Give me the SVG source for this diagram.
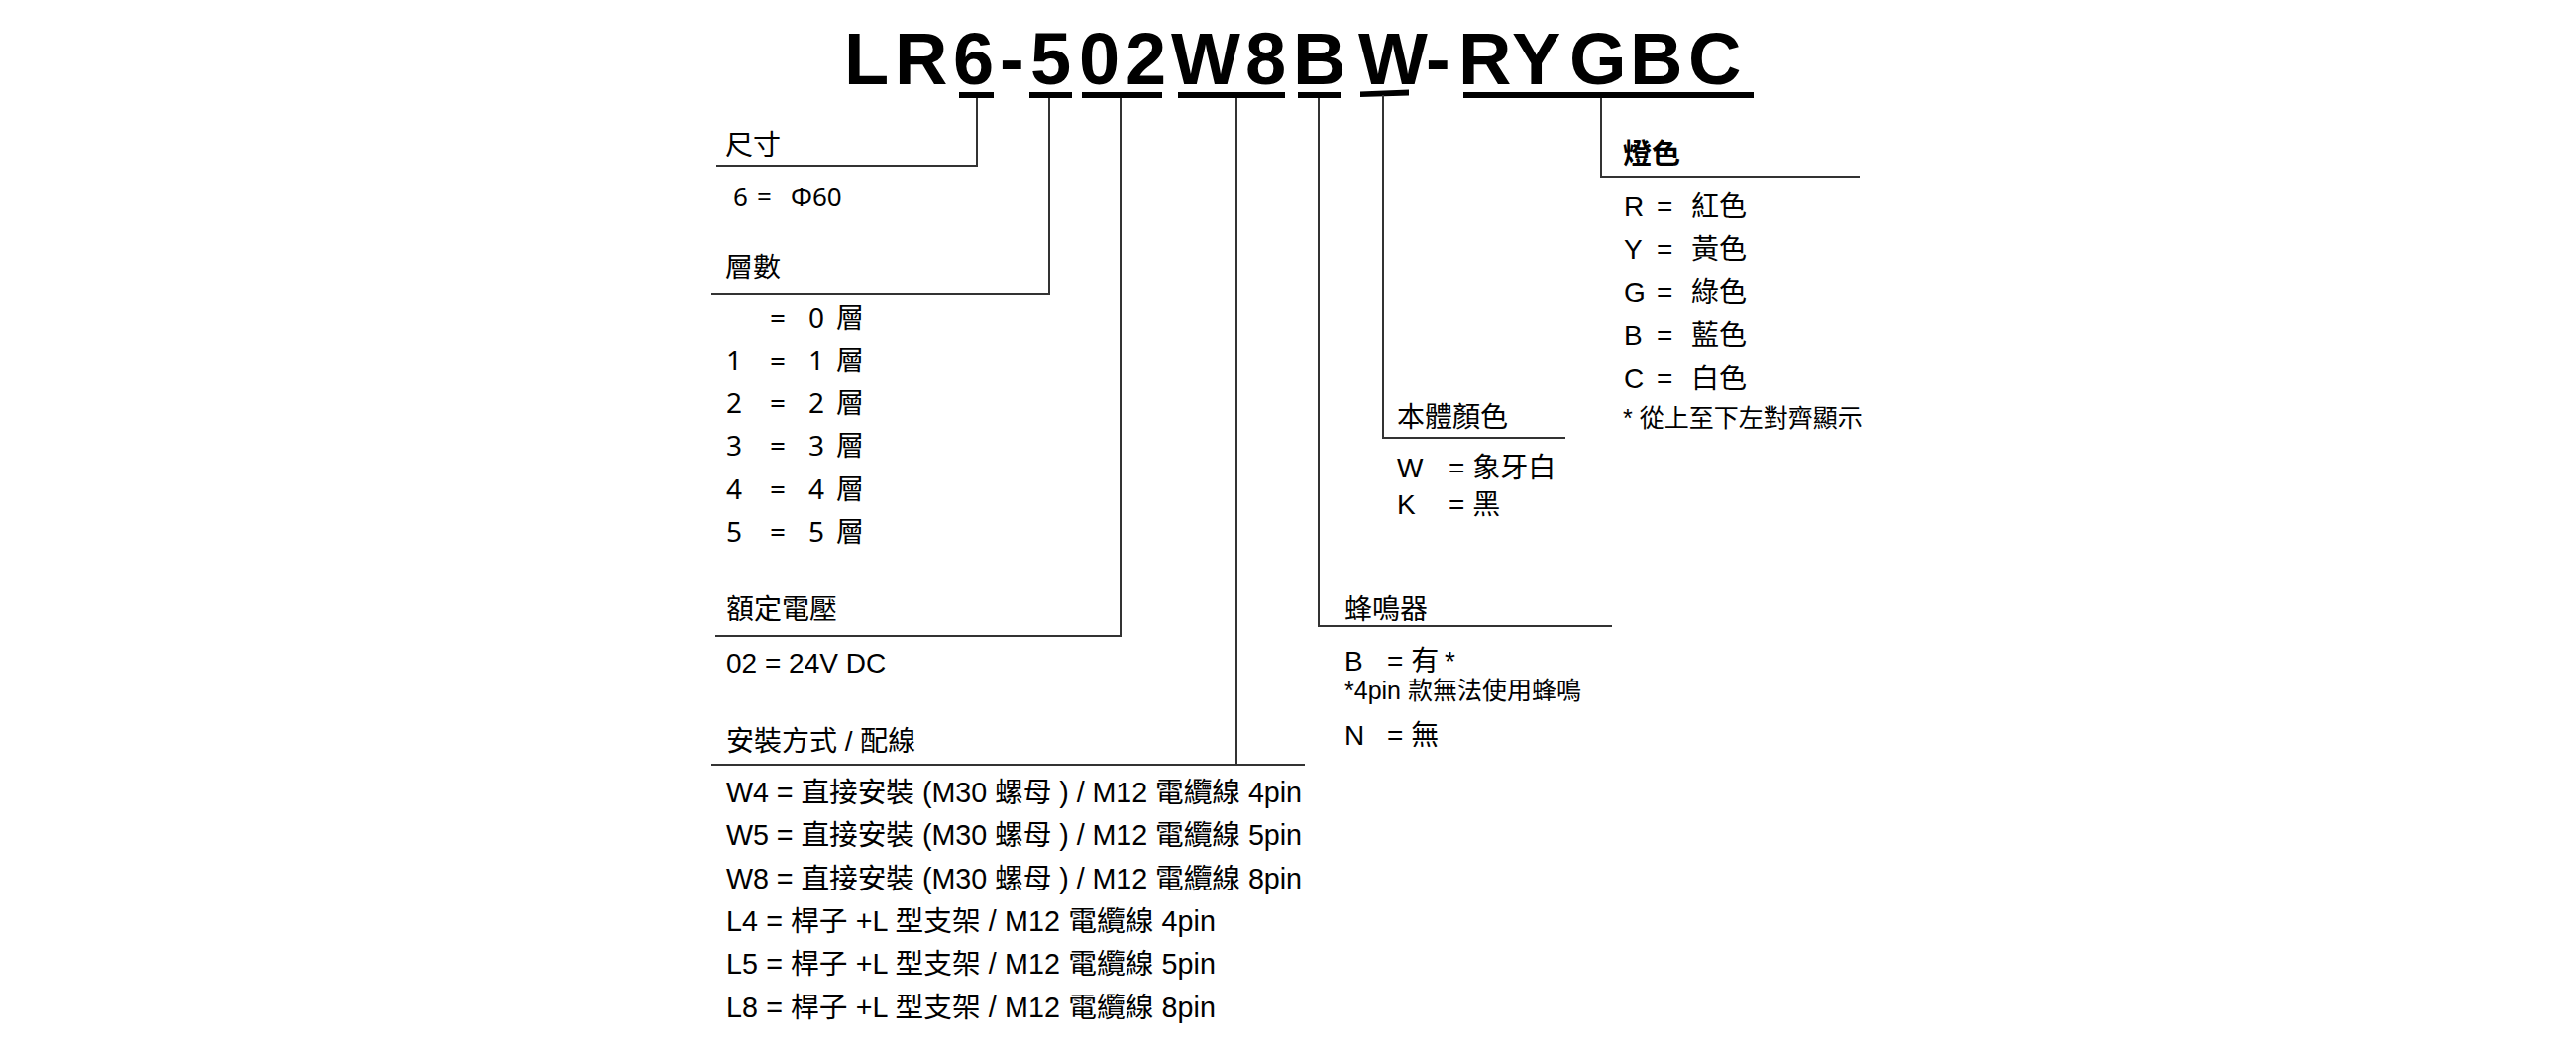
<svg xmlns="http://www.w3.org/2000/svg" width="2600" height="1057" viewBox="0 0 2600 1057">
<style>
.t{font-family:"Liberation Sans","Noto Sans CJK TC",sans-serif;font-size:28px;fill:#000}
.w{font-family:"Liberation Sans","Noto Sans CJK TC",sans-serif;font-size:28.7px;fill:#000}
.s{font-family:"Liberation Sans","Noto Sans CJK TC",sans-serif;font-size:25px;fill:#000}
.n{font-family:"Noto Sans","Noto Sans CJK TC",sans-serif;font-size:28px;fill:#000}
.h{font-family:"Noto Sans CJK TC",sans-serif;font-size:28px;fill:#000}
.title{font-family:"Liberation Sans",Arial,sans-serif;font-size:74px;font-weight:bold;fill:#000}
.ln{stroke:#333;stroke-width:2;fill:none}
.ul{fill:#000}
</style>
<rect width="2600" height="1057" fill="#fff"/>

<g id="title">
<text class="title" y="85" x="852 903 962 1009 1040 1089 1136 1182 1257 1305 1371 1439 1472 1526 1584 1645 1704">LR6-502W8BW-RYGBC</text>
</g>

<g id="connectors">
<rect class="ul" x="968" y="93" width="35" height="6"/>
<rect class="ul" x="1039" y="93" width="43" height="6"/>
<rect class="ul" x="1092" y="93" width="81" height="6"/>
<rect class="ul" x="1189" y="93" width="108" height="6"/>
<rect class="ul" x="1310" y="93" width="43" height="6"/>
<polygon class="ul" points="1373,92.5 1422,90.5 1422,96.5 1373,98"/>
<rect class="ul" x="1477" y="93" width="293" height="6"/>
<path class="ln" d="M986 99 V168 H723"/>
<path class="ln" d="M1059 99 V297 H718"/>
<path class="ln" d="M1131 99 V642 H722"/>
<path class="ln" d="M1248 99 V772 M718 772 H1317"/>
<path class="ln" d="M1331 99 V632 M1330 632 H1627"/>
<path class="ln" d="M1396 96 V442 H1580"/>
<path class="ln" d="M1616 99 V179 H1877"/>
</g>

<g id="size">
<text class="h" x="732" y="156">尺寸</text>
<text class="n" style="font-size:26px" y="208"><tspan x="740">6</tspan><tspan x="764">=</tspan><tspan x="798">Φ60</tspan></text>
</g>

<g id="layers">
<text class="h" x="732" y="280">層數</text>
<text class="n" y="331"><tspan x="777">=</tspan><tspan x="816">0</tspan><tspan x="844">層</tspan></text>
<text class="n" y="374"><tspan x="733">1</tspan><tspan x="777">=</tspan><tspan x="816">1</tspan><tspan x="844">層</tspan></text>
<text class="n" y="417"><tspan x="733">2</tspan><tspan x="777">=</tspan><tspan x="816">2</tspan><tspan x="844">層</tspan></text>
<text class="n" y="460"><tspan x="733">3</tspan><tspan x="777">=</tspan><tspan x="816">3</tspan><tspan x="844">層</tspan></text>
<text class="n" y="504"><tspan x="733">4</tspan><tspan x="777">=</tspan><tspan x="816">4</tspan><tspan x="844">層</tspan></text>
<text class="n" y="547"><tspan x="733">5</tspan><tspan x="777">=</tspan><tspan x="816">5</tspan><tspan x="844">層</tspan></text>
</g>

<g id="voltage">
<text class="h" x="733" y="625">額定電壓</text>
<text class="t" x="733" y="679">02 = 24V DC</text>
</g>

<g id="mounting">
<text class="t" x="733" y="758">安裝方式 / 配線</text>
<text class="w" x="733" y="810" textLength="581" lengthAdjust="spacing">W4 = 直接安裝 (M30 螺母 ) / M12 電纜線 4pin</text>
<text class="w" x="733" y="853" textLength="581" lengthAdjust="spacing">W5 = 直接安裝 (M30 螺母 ) / M12 電纜線 5pin</text>
<text class="w" x="733" y="897" textLength="581" lengthAdjust="spacing">W8 = 直接安裝 (M30 螺母 ) / M12 電纜線 8pin</text>
<text class="w" x="733" y="940" textLength="494" lengthAdjust="spacing">L4 = 桿子 +L 型支架 / M12 電纜線 4pin</text>
<text class="w" x="733" y="983" textLength="494" lengthAdjust="spacing">L5 = 桿子 +L 型支架 / M12 電纜線 5pin</text>
<text class="w" x="733" y="1027" textLength="494" lengthAdjust="spacing">L8 = 桿子 +L 型支架 / M12 電纜線 8pin</text>
</g>

<g id="buzzer">
<text class="h" x="1357" y="625">蜂鳴器</text>
<text class="t" y="677"><tspan x="1357">B</tspan><tspan x="1400">= 有</tspan><tspan x="1458">*</tspan></text>
<text class="s" x="1357" y="706">*4pin 款無法使用蜂鳴</text>
<text class="t" y="752"><tspan x="1357">N</tspan><tspan x="1400">= 無</tspan></text>
</g>

<g id="body-color">
<text class="h" x="1410" y="431">本體顏色</text>
<text class="t" y="482"><tspan x="1410">W</tspan><tspan x="1462">= 象牙白</tspan></text>
<text class="t" y="519"><tspan x="1410">K</tspan><tspan x="1462">= 黑</tspan></text>
</g>

<g id="light-color">
<text class="h" x="1638" y="166" style="font-weight:bold;font-size:29px">燈色</text>
<text class="t" y="218"><tspan x="1639">R</tspan><tspan x="1672">=</tspan><tspan x="1707">紅色</tspan></text>
<text class="t" y="261"><tspan x="1639">Y</tspan><tspan x="1672">=</tspan><tspan x="1707">黃色</tspan></text>
<text class="t" y="305"><tspan x="1639">G</tspan><tspan x="1672">=</tspan><tspan x="1707">綠色</tspan></text>
<text class="t" y="348"><tspan x="1639">B</tspan><tspan x="1672">=</tspan><tspan x="1707">藍色</tspan></text>
<text class="t" y="392"><tspan x="1639">C</tspan><tspan x="1672">=</tspan><tspan x="1707">白色</tspan></text>
<text class="s" x="1638" y="431">* 從上至下左對齊顯示</text>
</g>
</svg>
